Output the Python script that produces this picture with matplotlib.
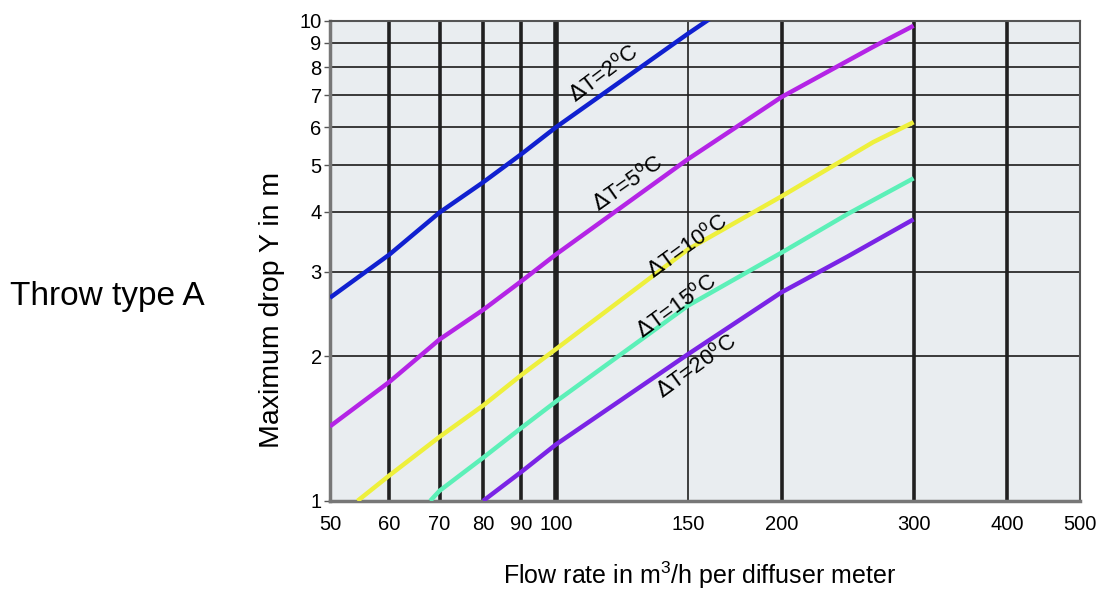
import matplotlib.pyplot as plt
from matplotlib.ticker import FixedLocator, NullLocator

plt.rcParams['font.family'] = 'Liberation Sans'

# Curves: flow rate (m3/h per m) -> maximum drop Y (m)
flow_2 = [50, 60, 70, 80, 90, 100, 150, 165]
drop_2 = [2.65, 3.26, 3.99, 4.61, 5.28, 6.0, 9.4, 10.4]

flow_5 = [50, 60, 70, 80, 90, 100, 150, 200, 265, 300]
drop_5 = [1.43, 1.77, 2.17, 2.50, 2.87, 3.26, 5.15, 6.94, 8.83, 9.77]

flow_10 = [54.4, 60, 70, 80, 90, 100, 150, 200, 265, 300]
drop_10 = [1.0, 1.13, 1.36, 1.58, 1.83, 2.07, 3.34, 4.31, 5.59, 6.15]

flow_15 = [68, 70, 80, 90, 100, 150, 200, 245, 300]
drop_15 = [1.0, 1.05, 1.23, 1.42, 1.61, 2.55, 3.29, 3.96, 4.70]

flow_20 = [80, 90, 100, 150, 200, 245, 300]
drop_20 = [1.0, 1.15, 1.31, 2.02, 2.72, 3.23, 3.86]

series = [
    (flow_2, drop_2, '#1020d0', r'$\Delta$T=2$^{\mathregular{o}}$C', 116, 7.75, 37),
    (flow_5, drop_5, '#b424e6', r'$\Delta$T=5$^{\mathregular{o}}$C', 125, 4.57, 35),
    (flow_10, drop_10, '#eef03c', r'$\Delta$T=10$^{\mathregular{o}}$C', 150, 3.39, 36),
    (flow_15, drop_15, '#5cf0b8', r'$\Delta$T=15$^{\mathregular{o}}$C', 145, 2.54, 36),
    (flow_20, drop_20, '#7a24e6', r'$\Delta$T=20$^{\mathregular{o}}$C', 154, 1.9, 36),
]

x_ticks = [50, 60, 70, 80, 90, 100, 150, 200, 300, 400, 500]
y_ticks = [1, 2, 3, 4, 5, 6, 7, 8, 9, 10]

fig = plt.figure(figsize=(11, 5.9), dpi=100)
ax = fig.add_axes([0.3, 0.151, 0.6818, 0.8136])
ax.set_facecolor('#e9edf0')
ax.set_xscale('log')
ax.set_yscale('log')
ax.set_xlim(50, 500)
ax.set_ylim(1, 10)

# grid
for y in y_ticks[1:-1]:
    ax.axhline(y, color='#3a3a3a', lw=1.4, zorder=1)
thick = {60: 2.6, 70: 2.6, 80: 2.6, 90: 2.6, 100: 4.0, 150: 1.2, 200: 2.6, 300: 2.6, 400: 2.6}
for x, lw in thick.items():
    ax.axvline(x, color='#202020', lw=lw, zorder=1)

for flow, drop, color, label, lx, ly, rot in series:
    ax.plot(flow, drop, color=color, lw=3.2, solid_capstyle='butt', zorder=3)
    ax.text(lx, ly, label, rotation=rot, rotation_mode='anchor', fontsize=16,
            ha='center', va='center', zorder=4)

ax.xaxis.set_major_locator(FixedLocator(x_ticks))
ax.xaxis.set_minor_locator(NullLocator())
ax.yaxis.set_major_locator(FixedLocator(y_ticks))
ax.yaxis.set_minor_locator(NullLocator())
ax.set_xticklabels([str(v) for v in x_ticks], fontsize=14.5)
ax.set_yticklabels([str(v) for v in y_ticks], fontsize=14.5)
ax.tick_params(axis='x', length=0, pad=10)
ax.tick_params(axis='y', length=4, width=1, color='#555555', pad=2)

for side in ['left', 'bottom']:
    ax.spines[side].set_color('#777777')
    ax.spines[side].set_linewidth(2.5)
for side in ['top', 'right']:
    ax.spines[side].set_color('#555555')
    ax.spines[side].set_linewidth(1.5)

fig.text(0.247, 0.475, 'Maximum drop Y in m', fontsize=20.5, rotation=90,
         ha='center', va='center')
fig.text(0.636, 0.025, r'Flow rate in m$^{\mathregular{3}}$/h per diffuser meter',
         fontsize=18, ha='center', va='center')

fig.text(0.009, 0.498, 'Throw type A', fontsize=24, ha='left', va='center')

plt.savefig('out.png', dpi=100)
